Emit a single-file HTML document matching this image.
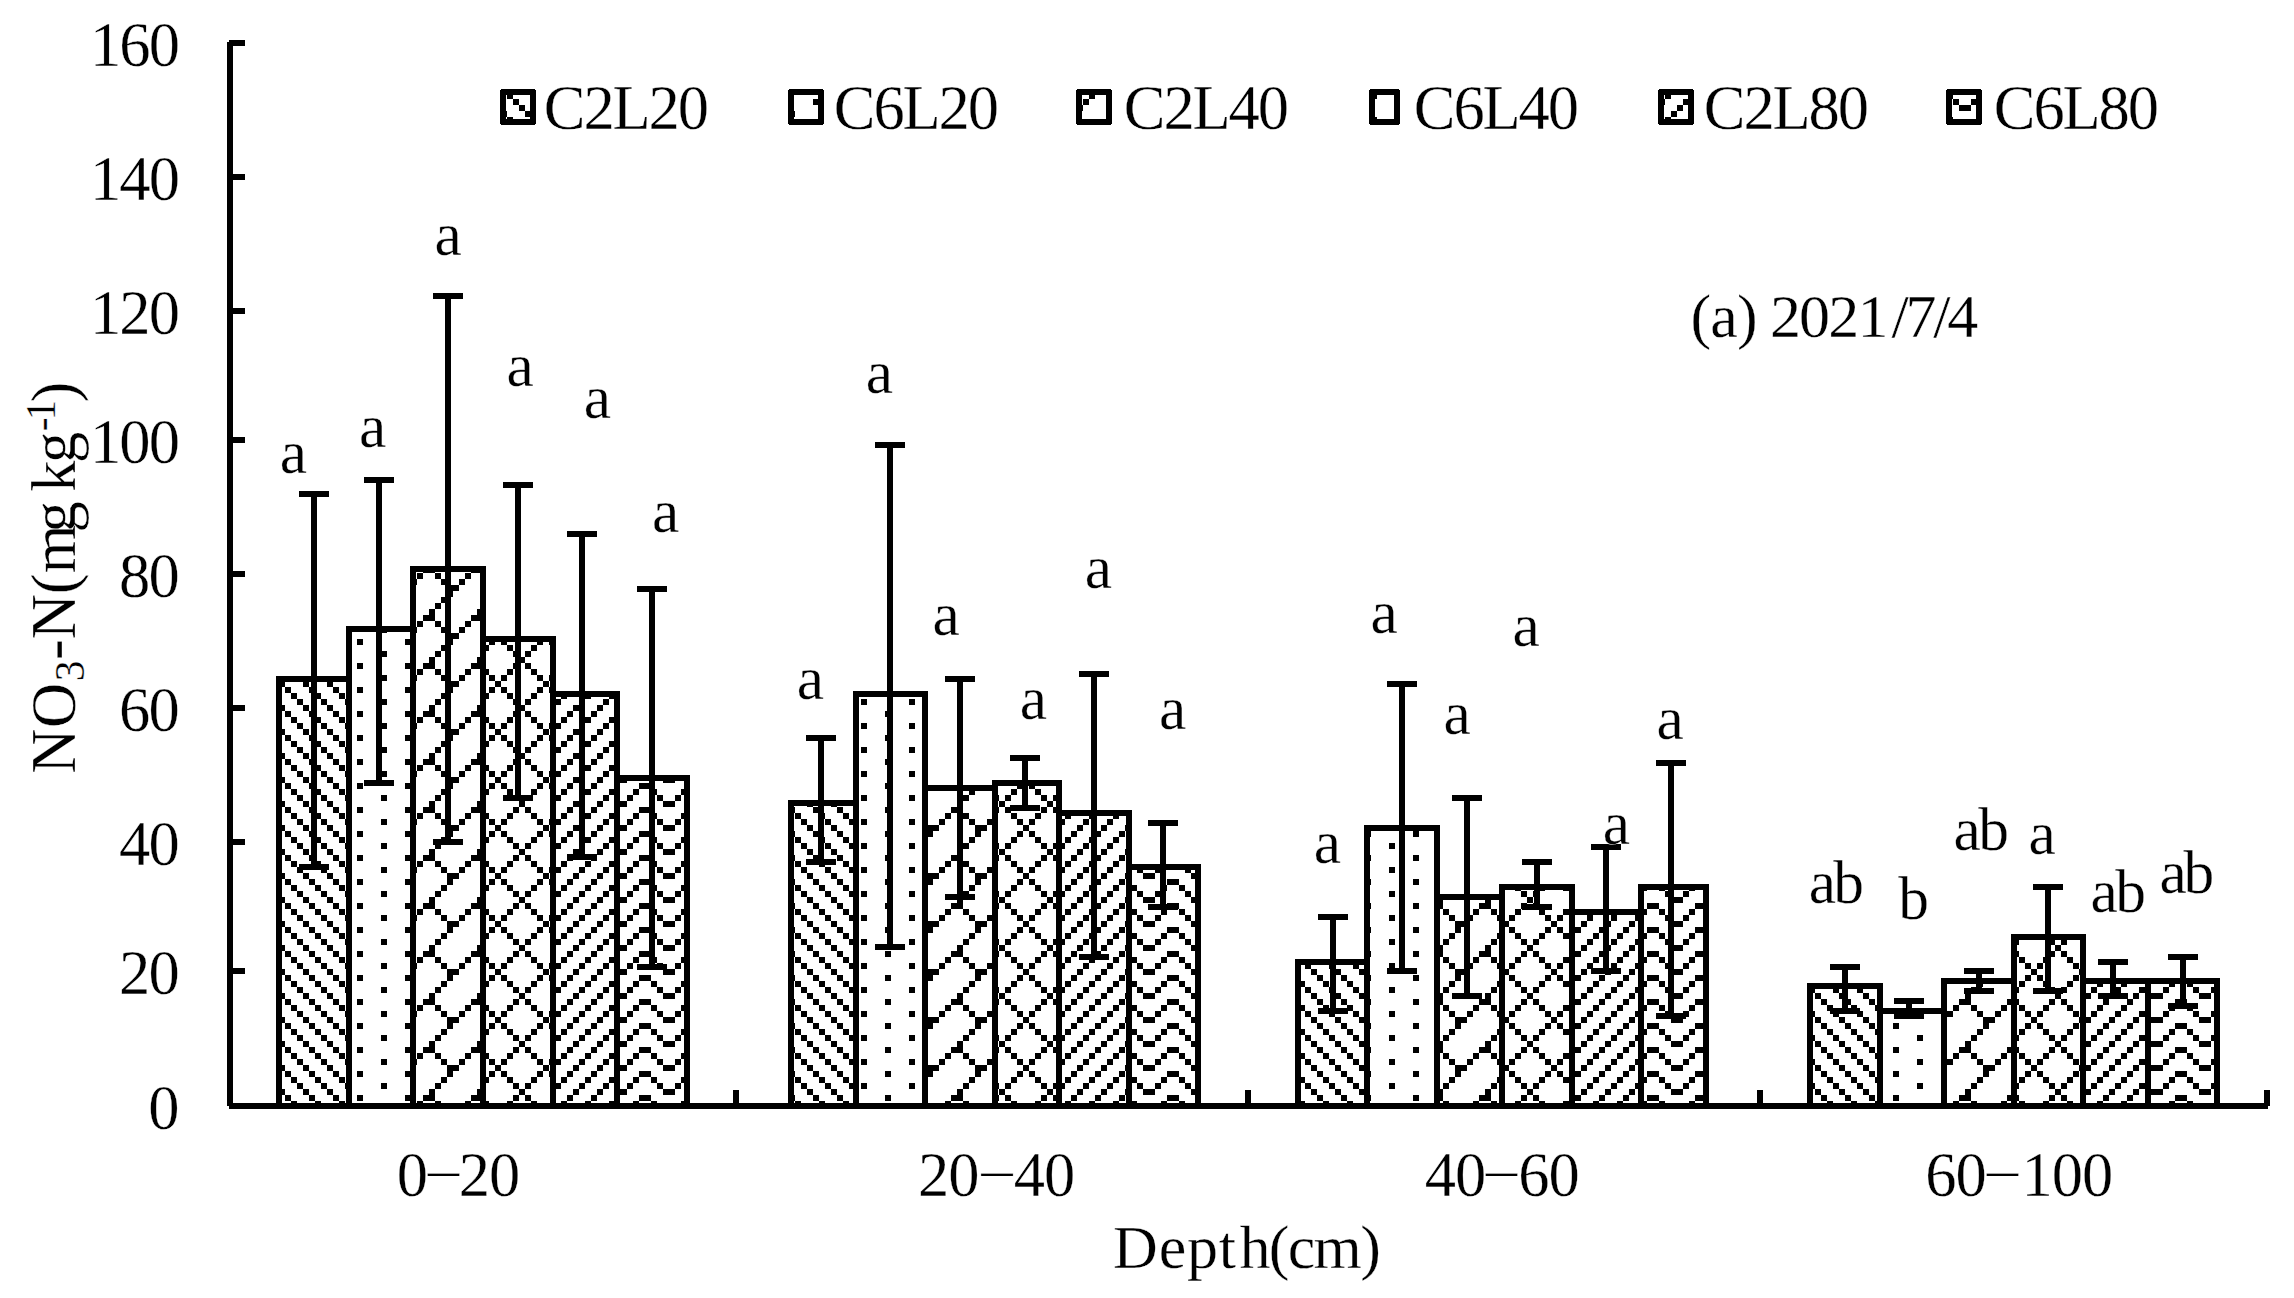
<!DOCTYPE html><html><head><meta charset="utf-8"><title>NO3-N by depth (a) 2021/7/4</title><style>html,body{margin:0;padding:0;background:#fff}svg{display:block}</style></head><body><svg width="2294" height="1298" viewBox="0 0 2294 1298"><defs><pattern id="ltDn" patternUnits="userSpaceOnUse" x="21" y="15" width="48" height="48"><rect width="48" height="48" fill="#fff"/><g fill="#000" shape-rendering="crispEdges"><rect x="0" y="0" width="6" height="6"/><rect x="24" y="0" width="6" height="6"/><rect x="6" y="6" width="6" height="6"/><rect x="30" y="6" width="6" height="6"/><rect x="12" y="12" width="6" height="6"/><rect x="36" y="12" width="6" height="6"/><rect x="18" y="18" width="6" height="6"/><rect x="42" y="18" width="6" height="6"/><rect x="0" y="24" width="6" height="6"/><rect x="24" y="24" width="6" height="6"/><rect x="6" y="30" width="6" height="6"/><rect x="30" y="30" width="6" height="6"/><rect x="12" y="36" width="6" height="6"/><rect x="36" y="36" width="6" height="6"/><rect x="18" y="42" width="6" height="6"/><rect x="42" y="42" width="6" height="6"/></g></pattern><pattern id="pct5" patternUnits="userSpaceOnUse" x="21" y="15" width="48" height="48"><rect width="48" height="48" fill="#fff"/><g fill="#000" shape-rendering="crispEdges"><rect x="0" y="0" width="6" height="6"/><rect x="24" y="12" width="6" height="6"/><rect x="0" y="24" width="6" height="6"/><rect x="24" y="36" width="6" height="6"/></g></pattern><pattern id="brick" patternUnits="userSpaceOnUse" x="21" y="15" width="48" height="48"><rect width="48" height="48" fill="#fff"/><g fill="#000" shape-rendering="crispEdges"><rect x="42" y="0" width="6" height="6"/><rect x="36" y="6" width="6" height="6"/><rect x="30" y="12" width="6" height="6"/><rect x="24" y="18" width="6" height="6"/><rect x="18" y="24" width="12" height="6"/><rect x="12" y="30" width="6" height="6"/><rect x="30" y="30" width="6" height="6"/><rect x="6" y="36" width="6" height="6"/><rect x="36" y="36" width="6" height="6"/><rect x="0" y="42" width="6" height="6"/><rect x="42" y="42" width="6" height="6"/></g></pattern><pattern id="dmnd" patternUnits="userSpaceOnUse" x="21" y="15" width="48" height="48"><rect width="48" height="48" fill="#fff"/><g fill="#000" shape-rendering="crispEdges"><rect x="0" y="0" width="6" height="6"/><rect x="36" y="0" width="6" height="6"/><rect x="6" y="6" width="6" height="6"/><rect x="30" y="6" width="6" height="6"/><rect x="12" y="12" width="6" height="6"/><rect x="24" y="12" width="6" height="6"/><rect x="18" y="18" width="6" height="6"/><rect x="12" y="24" width="6" height="6"/><rect x="24" y="24" width="6" height="6"/><rect x="6" y="30" width="6" height="6"/><rect x="30" y="30" width="6" height="6"/><rect x="0" y="36" width="6" height="6"/><rect x="36" y="36" width="6" height="6"/><rect x="42" y="42" width="6" height="6"/></g></pattern><pattern id="ltUp" patternUnits="userSpaceOnUse" x="21" y="15" width="48" height="48"><rect width="48" height="48" fill="#fff"/><g fill="#000" shape-rendering="crispEdges"><rect x="18" y="0" width="6" height="6"/><rect x="42" y="0" width="6" height="6"/><rect x="12" y="6" width="6" height="6"/><rect x="36" y="6" width="6" height="6"/><rect x="6" y="12" width="6" height="6"/><rect x="30" y="12" width="6" height="6"/><rect x="0" y="18" width="6" height="6"/><rect x="24" y="18" width="6" height="6"/><rect x="18" y="24" width="6" height="6"/><rect x="42" y="24" width="6" height="6"/><rect x="12" y="30" width="6" height="6"/><rect x="36" y="30" width="6" height="6"/><rect x="6" y="36" width="6" height="6"/><rect x="30" y="36" width="6" height="6"/><rect x="0" y="42" width="6" height="6"/><rect x="24" y="42" width="6" height="6"/></g></pattern><pattern id="zig" patternUnits="userSpaceOnUse" x="21" y="15" width="48" height="48"><rect width="48" height="48" fill="#fff"/><g fill="#000" shape-rendering="crispEdges"><rect x="0" y="0" width="6" height="6"/><rect x="42" y="0" width="6" height="6"/><rect x="6" y="6" width="6" height="6"/><rect x="36" y="6" width="6" height="6"/><rect x="12" y="12" width="6" height="6"/><rect x="30" y="12" width="6" height="6"/><rect x="18" y="18" width="12" height="6"/><rect x="0" y="24" width="6" height="6"/><rect x="42" y="24" width="6" height="6"/><rect x="6" y="30" width="6" height="6"/><rect x="36" y="30" width="6" height="6"/><rect x="12" y="36" width="6" height="6"/><rect x="30" y="36" width="6" height="6"/><rect x="18" y="42" width="12" height="6"/></g></pattern></defs><rect width="2294" height="1298" fill="#fff"/><g fill="#000" shape-rendering="crispEdges"><rect x="279" y="679" width="70" height="427" fill="url(#ltDn)" stroke="#000" stroke-width="6"/><rect x="349" y="629" width="64" height="477" fill="url(#pct5)" stroke="#000" stroke-width="6"/><rect x="413" y="569" width="70" height="537" fill="url(#brick)" stroke="#000" stroke-width="6"/><rect x="483" y="639" width="70" height="467" fill="url(#dmnd)" stroke="#000" stroke-width="6"/><rect x="553" y="694" width="64" height="412" fill="url(#ltUp)" stroke="#000" stroke-width="6"/><rect x="617" y="778" width="70" height="328" fill="url(#zig)" stroke="#000" stroke-width="6"/><rect x="791" y="803" width="65" height="303" fill="url(#ltDn)" stroke="#000" stroke-width="6"/><rect x="856" y="694" width="69" height="412" fill="url(#pct5)" stroke="#000" stroke-width="6"/><rect x="925" y="788" width="70" height="318" fill="url(#brick)" stroke="#000" stroke-width="6"/><rect x="995" y="783" width="64" height="323" fill="url(#dmnd)" stroke="#000" stroke-width="6"/><rect x="1059" y="813" width="70" height="293" fill="url(#ltUp)" stroke="#000" stroke-width="6"/><rect x="1129" y="867" width="69" height="239" fill="url(#zig)" stroke="#000" stroke-width="6"/><rect x="1298" y="962" width="69" height="144" fill="url(#ltDn)" stroke="#000" stroke-width="6"/><rect x="1367" y="828" width="70" height="278" fill="url(#pct5)" stroke="#000" stroke-width="6"/><rect x="1437" y="897" width="65" height="209" fill="url(#brick)" stroke="#000" stroke-width="6"/><rect x="1502" y="887" width="70" height="219" fill="url(#dmnd)" stroke="#000" stroke-width="6"/><rect x="1572" y="912" width="69" height="194" fill="url(#ltUp)" stroke="#000" stroke-width="6"/><rect x="1641" y="887" width="65" height="219" fill="url(#zig)" stroke="#000" stroke-width="6"/><rect x="1810" y="986" width="70" height="120" fill="url(#ltDn)" stroke="#000" stroke-width="6"/><rect x="1880" y="1011" width="64" height="95" fill="url(#pct5)" stroke="#000" stroke-width="6"/><rect x="1944" y="981" width="70" height="125" fill="url(#brick)" stroke="#000" stroke-width="6"/><rect x="2014" y="937" width="69" height="169" fill="url(#dmnd)" stroke="#000" stroke-width="6"/><rect x="2083" y="981" width="65" height="125" fill="url(#ltUp)" stroke="#000" stroke-width="6"/><rect x="2148" y="981" width="69" height="125" fill="url(#zig)" stroke="#000" stroke-width="6"/><rect x="311" y="491" width="6" height="379"/><rect x="299" y="491" width="30" height="6"/><rect x="299" y="864" width="30" height="6"/><rect x="376" y="477" width="6" height="309"/><rect x="364" y="477" width="30" height="6"/><rect x="364" y="780" width="30" height="6"/><rect x="445" y="293" width="6" height="552"/><rect x="433" y="293" width="30" height="6"/><rect x="433" y="839" width="30" height="6"/><rect x="515" y="482" width="6" height="319"/><rect x="503" y="482" width="30" height="6"/><rect x="503" y="795" width="30" height="6"/><rect x="579" y="531" width="6" height="329"/><rect x="567" y="531" width="30" height="6"/><rect x="567" y="854" width="30" height="6"/><rect x="649" y="586" width="6" height="384"/><rect x="637" y="586" width="30" height="6"/><rect x="637" y="964" width="30" height="6"/><rect x="818" y="735" width="6" height="130"/><rect x="806" y="735" width="30" height="6"/><rect x="806" y="859" width="30" height="6"/><rect x="887" y="442" width="6" height="508"/><rect x="875" y="442" width="30" height="6"/><rect x="875" y="944" width="30" height="6"/><rect x="957" y="676" width="6" height="224"/><rect x="945" y="676" width="30" height="6"/><rect x="945" y="894" width="30" height="6"/><rect x="1022" y="755" width="6" height="56"/><rect x="1010" y="755" width="30" height="6"/><rect x="1010" y="805" width="30" height="6"/><rect x="1091" y="671" width="6" height="289"/><rect x="1079" y="671" width="30" height="6"/><rect x="1079" y="954" width="30" height="6"/><rect x="1160" y="820" width="6" height="90"/><rect x="1148" y="820" width="30" height="6"/><rect x="1148" y="904" width="30" height="6"/><rect x="1330" y="914" width="6" height="100"/><rect x="1318" y="914" width="30" height="6"/><rect x="1318" y="1008" width="30" height="6"/><rect x="1399" y="681" width="6" height="293"/><rect x="1387" y="681" width="30" height="6"/><rect x="1387" y="968" width="30" height="6"/><rect x="1464" y="795" width="6" height="204"/><rect x="1452" y="795" width="30" height="6"/><rect x="1452" y="993" width="30" height="6"/><rect x="1534" y="859" width="6" height="51"/><rect x="1522" y="859" width="30" height="6"/><rect x="1522" y="904" width="30" height="6"/><rect x="1603" y="844" width="6" height="130"/><rect x="1591" y="844" width="30" height="6"/><rect x="1591" y="968" width="30" height="6"/><rect x="1668" y="760" width="6" height="259"/><rect x="1656" y="760" width="30" height="6"/><rect x="1656" y="1013" width="30" height="6"/><rect x="1842" y="964" width="6" height="50"/><rect x="1830" y="964" width="30" height="6"/><rect x="1830" y="1008" width="30" height="6"/><rect x="1906" y="998" width="6" height="21"/><rect x="1894" y="998" width="30" height="6"/><rect x="1894" y="1013" width="30" height="6"/><rect x="1976" y="968" width="6" height="26"/><rect x="1964" y="968" width="30" height="6"/><rect x="1964" y="988" width="30" height="6"/><rect x="2045" y="884" width="6" height="110"/><rect x="2033" y="884" width="30" height="6"/><rect x="2033" y="988" width="30" height="6"/><rect x="2110" y="959" width="6" height="40"/><rect x="2098" y="959" width="30" height="6"/><rect x="2098" y="993" width="30" height="6"/><rect x="2180" y="954" width="6" height="55"/><rect x="2168" y="954" width="30" height="6"/><rect x="2168" y="1003" width="30" height="6"/><rect x="227" y="40" width="6" height="1069"/><rect x="227" y="1103" width="2043" height="6"/><rect x="227" y="968" width="18" height="6"/><rect x="227" y="839" width="18" height="6"/><rect x="227" y="705" width="18" height="6"/><rect x="227" y="571" width="18" height="6"/><rect x="227" y="437" width="18" height="6"/><rect x="227" y="308" width="18" height="6"/><rect x="227" y="174" width="18" height="6"/><rect x="227" y="40" width="18" height="6"/><rect x="733" y="1090" width="6" height="16"/><rect x="1245" y="1090" width="6" height="16"/><rect x="1757" y="1090" width="6" height="16"/><rect x="2264" y="1090" width="6" height="16"/><rect x="227" y="40" width="2" height="2" fill="#fff"/><rect x="227" y="1106" width="2" height="3" fill="#fff"/><rect x="2268" y="1106" width="2" height="3" fill="#fff"/><rect x="503" y="92" width="30" height="30" fill="url(#ltDn)" stroke="#000" stroke-width="6" stroke-linejoin="round"/><rect x="791" y="92" width="30" height="30" fill="url(#pct5)" stroke="#000" stroke-width="6" stroke-linejoin="round"/><rect x="1079" y="92" width="30" height="30" fill="url(#brick)" stroke="#000" stroke-width="6" stroke-linejoin="round"/><rect x="1372" y="92" width="25" height="30" fill="url(#dmnd)" stroke="#000" stroke-width="6" stroke-linejoin="round"/><rect x="1661" y="92" width="30" height="30" fill="url(#ltUp)" stroke="#000" stroke-width="6" stroke-linejoin="round"/><rect x="1949" y="92" width="30" height="30" fill="url(#zig)" stroke="#000" stroke-width="6" stroke-linejoin="round"/></g><g fill="#000" stroke="#fff" stroke-width="0.3" font-family="'Liberation Serif', 'Times New Roman', serif"><text font-size="62.5" xml:space="preserve"><tspan x="279.70" y="473.30" font-size="61.5" letter-spacing="0.00">a</tspan></text><text font-size="62.5" xml:space="preserve"><tspan x="359.00" y="446.80" font-size="61.5" letter-spacing="0.00">a</tspan></text><text font-size="62.5" xml:space="preserve"><tspan x="434.50" y="255.30" font-size="61.5" letter-spacing="0.00">a</tspan></text><text font-size="62.5" xml:space="preserve"><tspan x="506.60" y="386.30" font-size="61.5" letter-spacing="0.00">a</tspan></text><text font-size="62.5" xml:space="preserve"><tspan x="583.80" y="417.80" font-size="61.5" letter-spacing="0.00">a</tspan></text><text font-size="62.5" xml:space="preserve"><tspan x="652.00" y="532.10" font-size="61.5" letter-spacing="0.00">a</tspan></text><text font-size="62.5" xml:space="preserve"><tspan x="796.70" y="698.50" font-size="61.5" letter-spacing="0.00">a</tspan></text><text font-size="62.5" xml:space="preserve"><tspan x="865.65" y="393.30" font-size="61.5" letter-spacing="0.00">a</tspan></text><text font-size="62.5" xml:space="preserve"><tspan x="932.40" y="634.90" font-size="61.5" letter-spacing="0.00">a</tspan></text><text font-size="62.5" xml:space="preserve"><tspan x="1019.70" y="719.20" font-size="61.5" letter-spacing="0.00">a</tspan></text><text font-size="62.5" xml:space="preserve"><tspan x="1084.80" y="588.40" font-size="61.5" letter-spacing="0.00">a</tspan></text><text font-size="62.5" xml:space="preserve"><tspan x="1159.00" y="728.60" font-size="61.5" letter-spacing="0.00">a</tspan></text><text font-size="62.5" xml:space="preserve"><tspan x="1313.70" y="863.00" font-size="61.5" letter-spacing="0.00">a</tspan></text><text font-size="62.5" xml:space="preserve"><tspan x="1370.60" y="633.30" font-size="61.5" letter-spacing="0.00">a</tspan></text><text font-size="62.5" xml:space="preserve"><tspan x="1443.60" y="733.60" font-size="61.5" letter-spacing="0.00">a</tspan></text><text font-size="62.5" xml:space="preserve"><tspan x="1512.60" y="646.00" font-size="61.5" letter-spacing="0.00">a</tspan></text><text font-size="62.5" xml:space="preserve"><tspan x="1602.80" y="844.00" font-size="61.5" letter-spacing="0.00">a</tspan></text><text font-size="62.5" xml:space="preserve"><tspan x="1656.60" y="739.20" font-size="61.5" letter-spacing="0.00">a</tspan></text><text font-size="62.5" xml:space="preserve"><tspan x="1808.65" y="903.10" font-size="61.5" letter-spacing="-2.80">ab</tspan></text><text font-size="62.5" xml:space="preserve"><tspan x="1898.30" y="918.90" font-size="61.5" letter-spacing="0.00">b</tspan></text><text font-size="62.5" xml:space="preserve"><tspan x="1953.40" y="849.90" font-size="61.5" letter-spacing="-2.40">ab</tspan></text><text font-size="62.5" xml:space="preserve"><tspan x="2028.60" y="854.30" font-size="61.5" letter-spacing="0.00">a</tspan></text><text font-size="62.5" xml:space="preserve"><tspan x="2090.40" y="912.10" font-size="61.5" letter-spacing="-2.50">ab</tspan></text><text font-size="62.5" xml:space="preserve"><tspan x="2159.40" y="893.40" font-size="61.5" letter-spacing="-3.30">ab</tspan></text><text font-size="62.5" xml:space="preserve"><tspan x="148.20" y="1129.00" letter-spacing="-1.90">0</tspan></text><text font-size="62.5" xml:space="preserve"><tspan x="119.10" y="994.00" letter-spacing="-1.90">20</tspan></text><text font-size="62.5" xml:space="preserve"><tspan x="119.10" y="865.00" letter-spacing="-1.90">40</tspan></text><text font-size="62.5" xml:space="preserve"><tspan x="119.10" y="731.00" letter-spacing="-1.90">60</tspan></text><text font-size="62.5" xml:space="preserve"><tspan x="119.10" y="597.00" letter-spacing="-1.90">80</tspan></text><text font-size="62.5" xml:space="preserve"><tspan x="90.00" y="463.00" letter-spacing="-1.90">100</tspan></text><text font-size="62.5" xml:space="preserve"><tspan x="90.00" y="334.00" letter-spacing="-1.90">120</tspan></text><text font-size="62.5" xml:space="preserve"><tspan x="90.00" y="200.00" letter-spacing="-1.90">140</tspan></text><text font-size="62.5" xml:space="preserve"><tspan x="90.00" y="66.00" letter-spacing="-1.90">160</tspan></text><text font-size="62.5" xml:space="preserve"><tspan x="543.80" y="129.30" letter-spacing="-2.10">C2L20</tspan></text><text font-size="62.5" xml:space="preserve"><tspan x="833.80" y="129.30" letter-spacing="-2.10">C6L20</tspan></text><text font-size="62.5" xml:space="preserve"><tspan x="1123.80" y="129.30" letter-spacing="-2.10">C2L40</tspan></text><text font-size="62.5" xml:space="preserve"><tspan x="1413.80" y="129.30" letter-spacing="-2.10">C6L40</tspan></text><text font-size="62.5" xml:space="preserve"><tspan x="1703.80" y="129.30" letter-spacing="-2.10">C2L80</tspan></text><text font-size="62.5" xml:space="preserve"><tspan x="1993.80" y="129.30" letter-spacing="-2.10">C6L80</tspan></text><text font-size="62.5" xml:space="preserve"><tspan x="1690.45" y="336.80" font-size="62" letter-spacing="-0.80">(a) </tspan><tspan x="1769.90" y="336.80" font-size="62" letter-spacing="-1.83">2021</tspan><tspan x="1891.60" y="336.80" font-size="62" letter-spacing="-3.23">/7/4</tspan></text><text font-size="62.5" xml:space="preserve"><tspan x="1113.10" y="1268.40" font-size="62" letter-spacing="0.77">Dept</tspan><tspan x="1239.40" y="1268.40" font-size="62" letter-spacing="-1.65">h(cm)</tspan></text><text font-size="62.5" xml:space="preserve"><tspan x="396.65" y="1195.50" letter-spacing="0.00">0</tspan><tspan x="423.70" y="1192.20" font-size="52.0" textLength="39.10" lengthAdjust="spacingAndGlyphs">−</tspan><tspan x="458.80" y="1195.50" letter-spacing="-1.00">20</tspan></text><text font-size="62.5" xml:space="preserve"><tspan x="918.10" y="1195.50" letter-spacing="-1.00">20</tspan><tspan x="977.30" y="1192.20" font-size="52.0" textLength="39.10" lengthAdjust="spacingAndGlyphs">−</tspan><tspan x="1013.75" y="1195.50" letter-spacing="-1.00">40</tspan></text><text font-size="62.5" xml:space="preserve"><tspan x="1424.70" y="1195.50" letter-spacing="-1.00">40</tspan><tspan x="1481.80" y="1192.20" font-size="52.0" textLength="39.10" lengthAdjust="spacingAndGlyphs">−</tspan><tspan x="1518.30" y="1195.50" letter-spacing="-1.00">60</tspan></text><text font-size="62.5" xml:space="preserve"><tspan x="1925.20" y="1195.50" letter-spacing="-1.00">60</tspan><tspan x="1982.80" y="1192.20" font-size="52.0" textLength="39.10" lengthAdjust="spacingAndGlyphs">−</tspan><tspan x="2021.50" y="1195.50" letter-spacing="-1.00">100</tspan></text><text transform="translate(74.6,773) rotate(-90)" font-size="62.5" xml:space="preserve"><tspan x="-0.70" y="0.00" letter-spacing="0.50">NO</tspan><tspan x="91.70" y="9.30" font-size="41.5" letter-spacing="0.00">3</tspan><tspan x="112.90" y="0.00" letter-spacing="0.00">-N(m</tspan><tspan x="240.60" y="0.00" letter-spacing="0.00">g </tspan><tspan x="281.30" y="0.00" letter-spacing="-2.50">kg</tspan><tspan x="341.70" y="-19.90" font-size="41.5" letter-spacing="0.00">-</tspan><tspan x="352.40" y="-19.90" font-size="41.5" letter-spacing="0.00">1</tspan><tspan x="370.50" y="0.00" letter-spacing="0.00">)</tspan></text></g></svg></body></html>
